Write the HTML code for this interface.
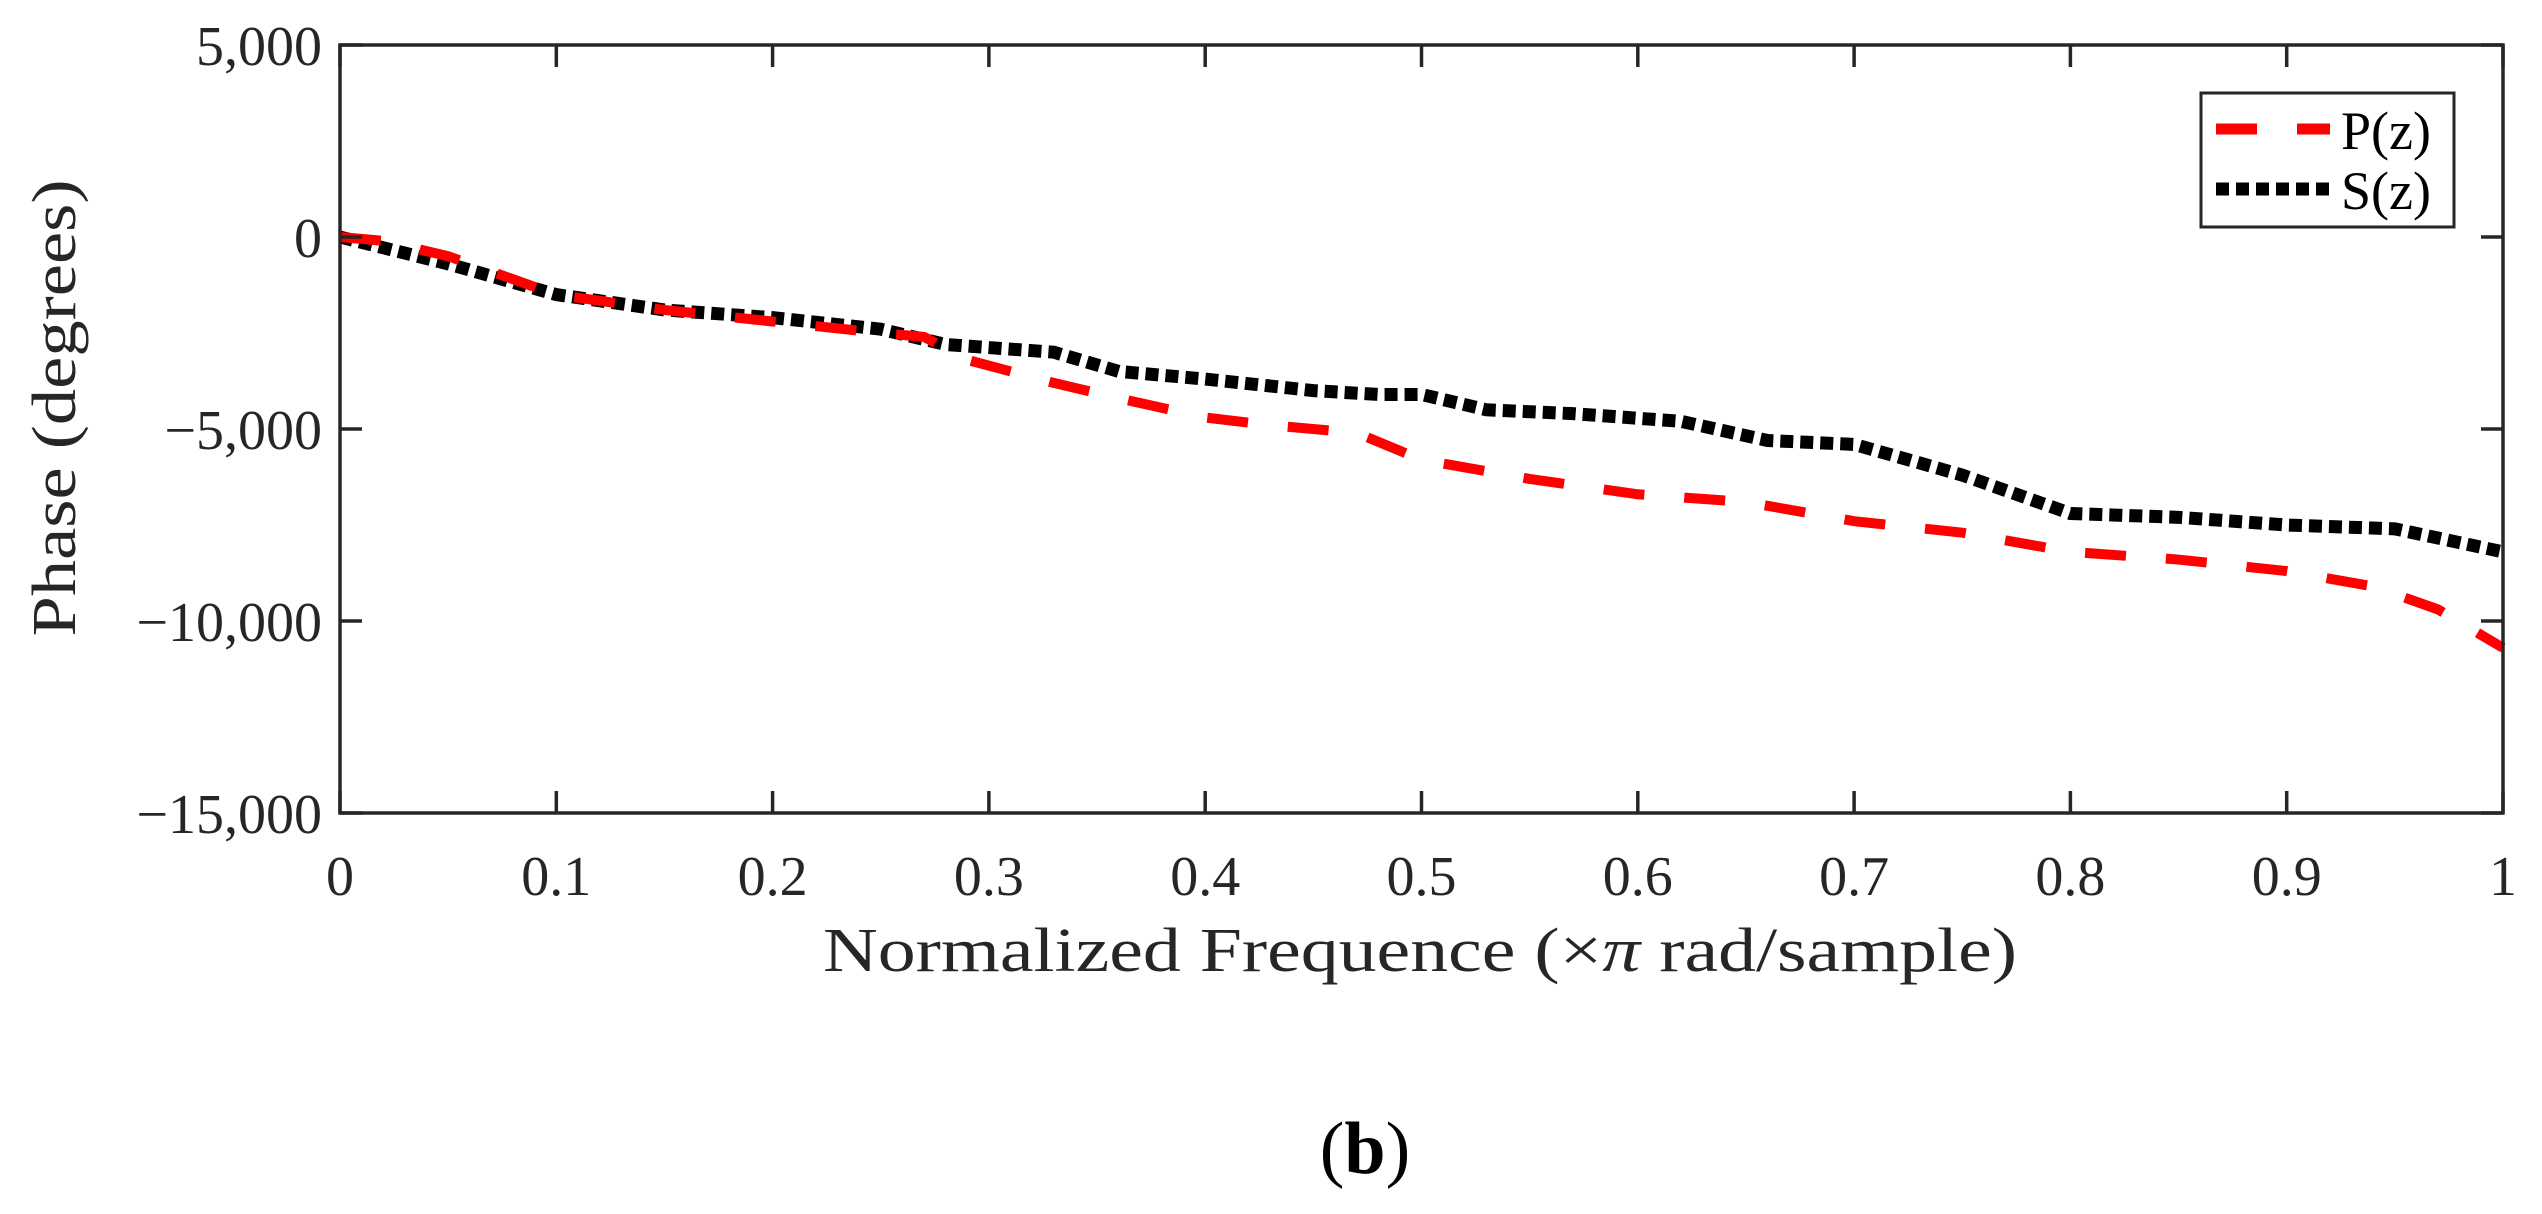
<!DOCTYPE html>
<html><head><meta charset="utf-8"><style>
html,body{margin:0;padding:0;background:#fff;}
svg{display:block;font-family:"Liberation Serif",serif;}
</style></head><body>
<svg id="chart" width="2542" height="1214" viewBox="0 0 2542 1214" xmlns="http://www.w3.org/2000/svg">
<rect width="2542" height="1214" fill="#fff"/>
<g id="plot"></g>
<text x="1420" y="971" font-size="62" text-anchor="middle" textLength="1194" lengthAdjust="spacingAndGlyphs" fill="#262626">Normalized Frequence   (×<tspan font-style="italic">π</tspan> rad/sample)</text>
<text transform="translate(75,408) rotate(-90)" font-size="62" text-anchor="middle" textLength="457" lengthAdjust="spacingAndGlyphs" fill="#262626">Phase (degrees)</text>
<text x="1365" y="1173" font-size="74" text-anchor="middle" fill="#000">(<tspan font-weight="bold">b</tspan>)</text>
<g>
<rect x="2201" y="93" width="253" height="134" fill="#fff" stroke="#262626" stroke-width="3"/>
<line x1="2216" y1="129" x2="2330" y2="129" stroke="#f00" stroke-width="11" stroke-dasharray="41,40"/>
<text x="2341" y="149" font-size="54" fill="#000">P(z)</text>
<line x1="2216" y1="189" x2="2330" y2="189" stroke="#000" stroke-width="13" stroke-dasharray="13,7"/>
<text x="2341" y="209" font-size="54" fill="#000">S(z)</text>
</g>
</svg>
<script>
const xTicks = [0,0.1,0.2,0.3,0.4,0.5,0.6,0.7,0.8,0.9,1];
const xTickLabels = ["0","0.1","0.2","0.3","0.4","0.5","0.6","0.7","0.8","0.9","1"];
const yTicks = [5000,0,-5000,-10000,-15000];
const yTickLabels = ["5,000","0","\u22125,000","\u221210,000","\u221215,000"];
const pX = [0,0.02,0.05,0.08,0.1,0.15,0.2,0.25,0.27,0.29,0.33,0.36,0.4,0.43,0.47,0.5,0.55,0.6,0.65,0.7,0.75,0.8,0.85,0.9,0.94,0.97,1];
const pY = [0,-100,-500,-1100,-1500,-1900,-2200,-2500,-2600,-3200,-3800,-4200,-4700,-4900,-5100,-5800,-6300,-6700,-6900,-7400,-7700,-8200,-8400,-8700,-9100,-9700,-10700];
const sX = [0,0.05,0.1,0.15,0.2,0.25,0.28,0.33,0.36,0.4,0.45,0.48,0.5,0.53,0.57,0.62,0.66,0.7,0.75,0.8,0.85,0.9,0.95,1];
const sY = [0,-700,-1500,-1900,-2100,-2400,-2800,-3000,-3500,-3700,-4000,-4100,-4100,-4500,-4600,-4800,-5300,-5400,-6200,-7200,-7300,-7500,-7600,-8200];

const L=340,R=2503,T=45,B=813;
const xs=v=>L+(v-0)/(1-0)*(R-L);
const ys=v=>T+(5000-v)/(5000+15000)*(B-T);
const NS="http://www.w3.org/2000/svg";
const g=document.getElementById('plot');
function mk(tag,attrs){const e=document.createElementNS(NS,tag);for(const k in attrs)e.setAttribute(k,attrs[k]);g.appendChild(e);return e;}

const sPath=mk('polyline',{points:sX.map((x,i)=>xs(x)+','+ys(sY[i])).join(' '),fill:'none',stroke:'#000','stroke-width':13,'stroke-dasharray':'13,7'});


const pPath=mk('polyline',{points:pX.map((x,i)=>xs(x)+','+ys(pY[i])).join(' '),fill:'none',stroke:'#f00','stroke-width':10,'stroke-dasharray':'41,40'});



const box=mk('rect',{x:L,y:T,width:R-L,height:B-T,fill:'none',stroke:'#262626','stroke-width':3.5});



xTicks.forEach((v,i)=>{
  const x=xs(v);
  const t1=mk('line',{x1:x,y1:B,x2:x,y2:B-22,stroke:'#262626','stroke-width':3.5});
  
  
  const t2=mk('line',{x1:x,y1:T,x2:x,y2:T+22,stroke:'#262626','stroke-width':3.5});
  
  
  const tx=mk('text',{x:x,y:895,'font-size':56,'text-anchor':'middle',fill:'#262626'});
  tx.textContent=xTickLabels[i];
  
  
});
yTicks.forEach((v,i)=>{
  const y=ys(v);
  const t1=mk('line',{x1:L,y1:y,x2:L+22,y2:y,stroke:'#262626','stroke-width':3.5});
  
  
  const t2=mk('line',{x1:R,y1:y,x2:R-22,y2:y,stroke:'#262626','stroke-width':3.5});
  
  
  const tx=mk('text',{x:322,y:y+20,'font-size':56,'text-anchor':'end',fill:'#262626'});
  tx.textContent=yTickLabels[i];
  
  
});
</script>
</body></html>
